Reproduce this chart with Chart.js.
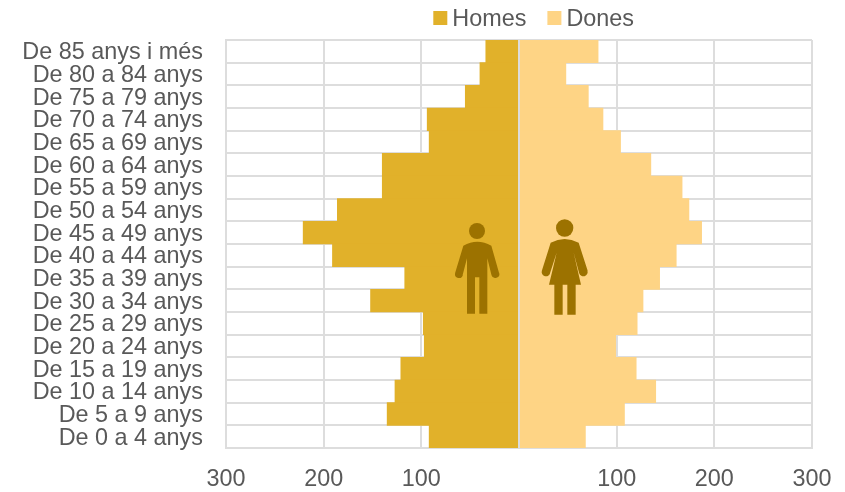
<!DOCTYPE html>
<html><head><meta charset="utf-8">
<style>html,body{margin:0;padding:0;background:#fff}#w{position:relative;width:845px;height:492px}</style>
<script src="https://cdn.jsdelivr.net/npm/chart.js@4"></script>
</head><body><div id="w"><canvas id="c" width="845" height="492"></canvas></div>
<script>
const categories = ["De 85 anys i més","De 80 a 84 anys","De 75 a 79 anys","De 70 a 74 anys","De 65 a 69 anys","De 60 a 64 anys","De 55 a 59 anys","De 50 a 54 anys","De 45 a 49 anys","De 40 a 44 anys","De 35 a 39 anys","De 30 a 34 anys","De 25 a 29 anys","De 20 a 24 anys","De 15 a 19 anys","De 10 a 14 anys","De 5 a 9 anys","De 0 a 4 anys"];
const homes = [34,40,55,94,92,140,140,186,221,191,117,152,98,97,121,127,135,92];
const dones = [81,48,71,86,104,135,167,174,187,161,144,127,121,99,120,140,108,68];
const xTicks = [-300,-200,-100,0,100,200,300];
const GREY = '#595959', GRID = '#dddddd', FONT = {family:'"Liberation Sans"', size:23.4};

function man(ctx){
  ctx.beginPath();
  ctx.moveTo(130,137);ctx.quadraticCurveTo(172,114,214,137);
  ctx.lineTo(237,218);ctx.arc(226,222,12,-0.3,2.9);
  ctx.lineTo(202,175);ctx.lineTo(202,341);ctx.lineTo(178,341);ctx.lineTo(178,232);ctx.lineTo(165,232);ctx.lineTo(165,341);ctx.lineTo(141,341);ctx.lineTo(141,175);
  ctx.lineTo(128,225);ctx.arc(117,222,12,0.24,3.44);
  ctx.closePath();ctx.fill();
  ctx.beginPath();ctx.arc(171,93,24,0,7);ctx.fill();
}
function woman(ctx){
  ctx.beginPath();
  ctx.moveTo(392,128);ctx.quadraticCurveTo(434,106,476,128);
  ctx.lineTo(503,212);ctx.arc(490,216,13,-0.3,2.9);
  ctx.lineTo(461,158);ctx.lineTo(483,254);ctx.lineTo(467,254);ctx.lineTo(467,344);ctx.lineTo(442,344);ctx.lineTo(442,254);ctx.lineTo(428,254);ctx.lineTo(428,344);ctx.lineTo(403,344);ctx.lineTo(403,254);ctx.lineTo(387,254);ctx.lineTo(410,158);
  ctx.lineTo(390,220);ctx.arc(378,216,13,0.24,3.44);
  ctx.closePath();ctx.fill();
  ctx.beginPath();ctx.arc(434,84,26,0,7);ctx.fill();
}
const overlay = {
  id:'overlay',
  afterDatasetsDraw(chart){
    const {ctx,scales:{x},chartArea:a} = chart;
    const x0 = x.getPixelForValue(0);
    ctx.save();
    ctx.strokeStyle = GRID; ctx.lineWidth = 2;
    ctx.beginPath();ctx.moveTo(x0,a.top);ctx.lineTo(x0,a.bottom);ctx.stroke();
    ctx.fillStyle = '#9c7200';
    ctx.translate(x0-99,200);ctx.scale(1/3,1/3);
    man(ctx); woman(ctx);
    ctx.restore();
    // legend
    ctx.save();
    ctx.font = FONT.size+'px '+FONT.family;
    ctx.textBaseline='alphabetic';
    let lx = x0-85.7;
    chart.data.datasets.forEach(d=>{
      ctx.fillStyle=d.backgroundColor;
      ctx.fillRect(lx,11,14,14);
      ctx.fillStyle=GREY;
      ctx.fillText(d.label,lx+19,26);
      lx += 19+ctx.measureText(d.label).width+21;
    });
    ctx.restore();
  }
};
new Chart(document.getElementById('c'),{
  type:'bar',
  data:{labels:categories,datasets:[
    {label:'Homes',data:homes.map(v=>-v),backgroundColor:'#e1b12a'},
    {label:'Dones',data:dones,backgroundColor:'#fed485'}
  ]},
  options:{
    indexAxis:'y',responsive:false,animation:false,
    layout:{padding:{left:0,right:33,top:40,bottom:0}},
    datasets:{bar:{barPercentage:1,categoryPercentage:1,grouped:false}},
    plugins:{
      tooltip:{enabled:false},
      legend:{display:false}
    },
    scales:{
      x:{type:'linear',min:-300,max:300,stacked:true,
        afterBuildTicks(s){s.ticks = xTicks.map(v=>({value:v}));},
        grid:{color:GRID,lineWidth:2,drawTicks:false},
        border:{color:GRID,width:2},
        afterFit(s){s.height=44;s.paddingLeft=0;s.paddingRight=0;},
        ticks:{color:GREY,font:FONT,padding:18,maxRotation:0,
          callback:v=>v===0?'':Math.abs(v)}},
      y:{stacked:true,
        grid:{color:GRID,lineWidth:2,drawTicks:false},
        border:{color:GRID,width:2},
        afterFit(s){s.width=226;s.paddingTop=0;s.paddingBottom=0;},
        ticks:{color:GREY,font:FONT,padding:23,autoSkip:false,labelOffset:1.5}}
    }
  },
  plugins:[overlay]
});
</script></body></html>
